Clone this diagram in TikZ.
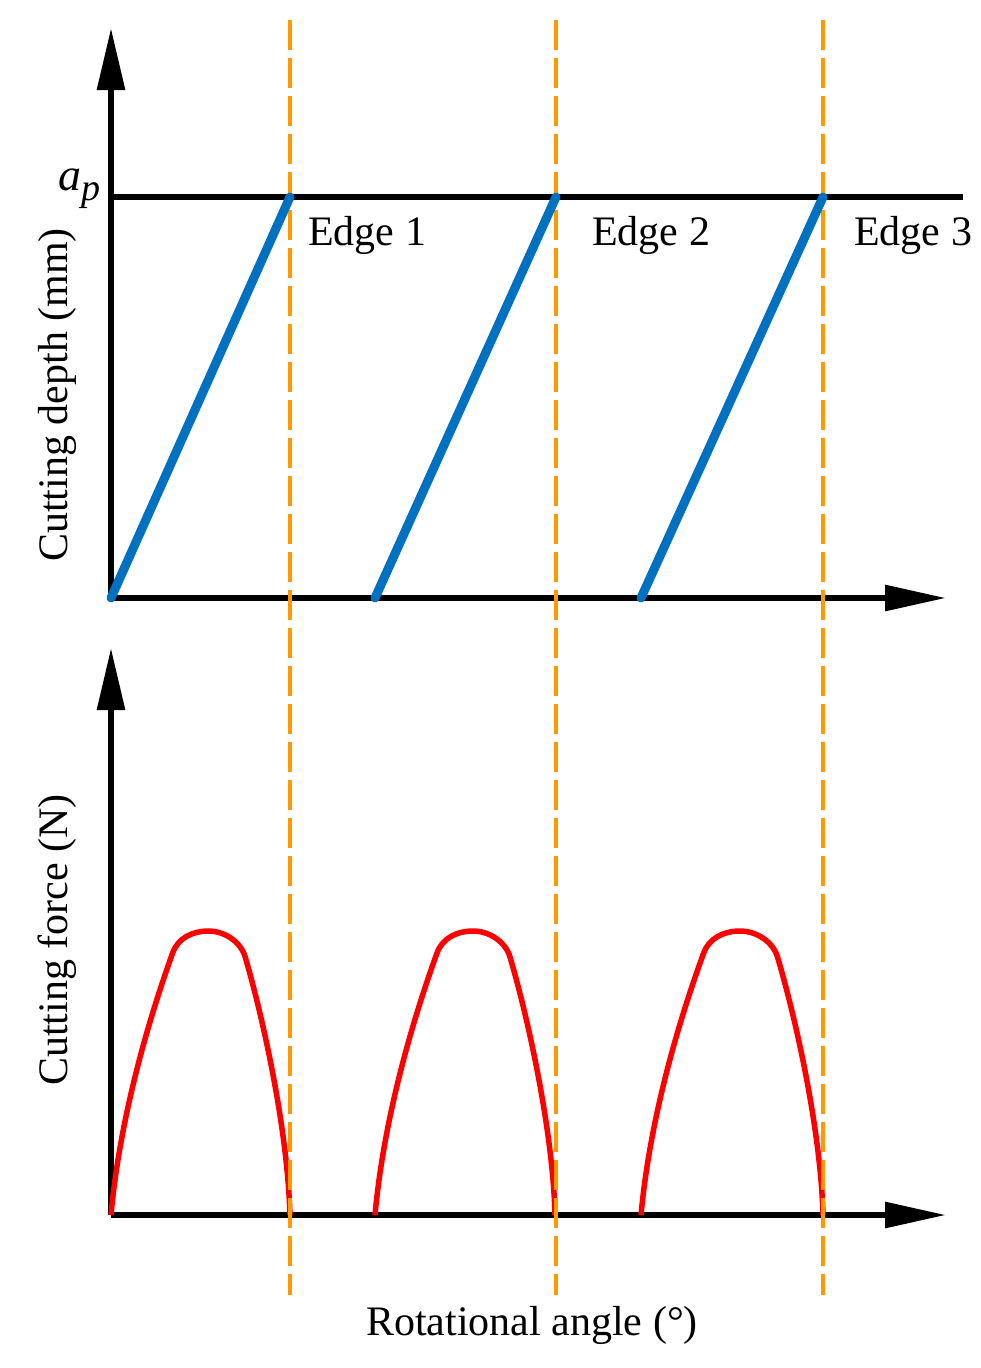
\documentclass[tikz,border=0pt]{standalone}
\usepackage{fontspec}
\setmainfont{Liberation Serif}
\usetikzlibrary{arrows.meta}
\definecolor{edgeorange}{RGB}{255,153,0}
\definecolor{depthblue}{RGB}{0,112,192}
\definecolor{forcered}{RGB}{255,0,0}
\begin{document}
\begin{tikzpicture}[x=1pt,y=-1pt,
  axisline/.style={line width=6pt,black},
  yarrow/.style={axisline,-{Triangle[length=62pt,width=27pt]}},
  xarrow/.style={axisline,-{Triangle[length=61pt,width=25pt]}},
  edgeline/.style={edgeorange,line width=4.5pt,dash pattern=on 30pt off 8pt},
  depthline/.style={depthblue,line width=9pt,line cap=round},
  forceline/.style={forcered,line width=5.5pt},
  lbl/.style={font=\fontsize{42}{50}\selectfont,inner sep=0pt}]
\useasboundingbox (0,0) rectangle (981,1368);
% named points
\coordinate (O1) at (111,598);
\coordinate (Y1) at (111,28);
\coordinate (X1) at (946,598);
\coordinate (A0) at (111,197);
\coordinate (A1) at (963,197);
\coordinate (O2) at (111,1215);
\coordinate (Y2) at (111,648);
\coordinate (X2) at (946,1215);
\foreach \n/\x in {1/290,2/556,3/823}{
  \coordinate (T\n) at (\x,20);
  \coordinate (B\n) at (\x,1295);
  \coordinate (P\n) at (\x,197);
}
\coordinate (S1) at (111,598);
\coordinate (S2) at (375,598);
\coordinate (S3) at (641,598);
% axes
\draw[yarrow] (O1) -- (Y1);
\draw[xarrow] (O1) -- (X1);
\draw[axisline] (A0) -- (A1);
\draw[yarrow] (O2) -- (Y2);
\draw[xarrow] (O2) -- (X2);
% force curves
\foreach \sx/\sc in {111/0.994,375/1.0,641/1.011}{
  \begin{scope}[shift={(\sx,1215)},xscale=\sc,yscale=-1]
    \draw[forceline] (0,0) .. controls (10,110) and (45,215) .. (62,262)
      .. controls (67.4,277) and (82,284) .. (98,284)
      .. controls (114,284) and (130.5,273.4) .. (135,258)
      .. controls (155,190) and (178,80) .. (180,0);
  \end{scope}
}
% edge lines
\foreach \n in {1,2,3}{ \draw[edgeline] (T\n) -- (B\n); }
% depth lines
\foreach \n in {1,2,3}{ \draw[depthline] (S\n) -- (P\n); }
% labels
\node[lbl,anchor=base west] (e1) at (308,245) {Edge 1};
\node[lbl,anchor=base west] (e2) at (592,245) {Edge 2};
\node[lbl,anchor=base west] (e3) at (854,245) {Edge 3};
\node[lbl,anchor=base east] (ap) at (101,190) {\fontsize{46}{50}\selectfont\textit{a}\raisebox{-10pt}{\fontsize{38}{40}\selectfont\textit{p}}};
\node[lbl,rotate=90,anchor=base] (ylab1) at (67,395) {Cutting depth (mm)};
\node[lbl,rotate=90,anchor=base] (ylab2) at (67,940) {Cutting force (N)};
\node[lbl,anchor=base] (xlab) at (532,1335) {Rotational angle (°)};
\end{tikzpicture}
\end{document}
